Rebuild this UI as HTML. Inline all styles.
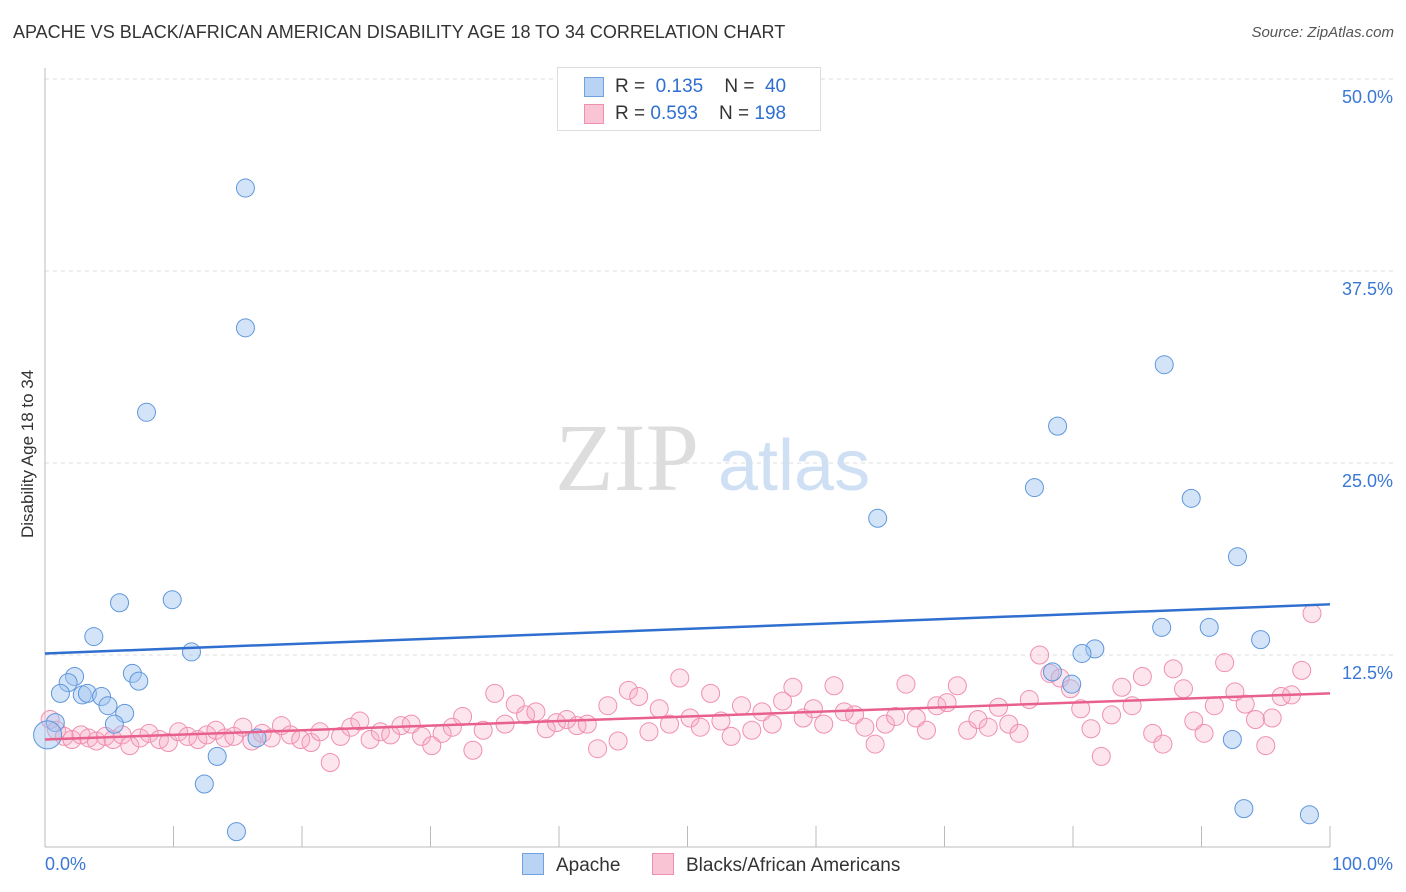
<!DOCTYPE html>
<html><head><meta charset="utf-8"><style>
body{margin:0;background:#fff;font-family:"Liberation Sans",sans-serif;}
#wrap{position:relative;width:1406px;height:892px;}
.t{position:absolute;white-space:nowrap;}
</style></head><body>
<div id="wrap">
<div class="t" style="left:13px;top:22px;font-size:18px;color:#333;">APACHE VS BLACK/AFRICAN AMERICAN DISABILITY AGE 18 TO 34 CORRELATION CHART</div>
<div class="t" style="right:12px;top:24px;font-size:15px;color:#555;font-style:italic;">Source: ZipAtlas.com</div>
<div class="t" style="left:-52px;top:448px;font-size:17px;color:#333;transform:rotate(-90deg);width:160px;text-align:center;">Disability Age 18 to 34</div>
<svg id="svg" width="1406" height="892" style="position:absolute;left:0;top:0"></svg>
</div>
<script>
const apacheX=[15.6,15.6,7.9,5.8,9.9,3.8,11.4,2.3,1.8,6.8,7.3,1.2,2.9,3.3,4.4,4.9,6.2,5.4,0.8,0.2,13.4,16.5,12.4,14.9,64.8,78.8,77.0,87.1,89.2,92.8,86.9,90.6,94.6,81.7,80.7,79.9,78.4,92.4,93.3,98.4];
const apacheY=[42.9,33.8,28.3,15.9,16.1,13.7,12.7,11.1,10.7,11.3,10.8,10.0,9.9,10.0,9.8,9.2,8.7,8.0,8.1,7.3,5.9,7.1,4.1,1.0,21.4,27.4,23.4,31.4,22.7,18.9,14.3,14.3,13.5,12.9,12.6,10.6,11.4,7.0,2.5,2.1];
const blackX=[0.4,0.9,1.5,2.1,2.8,3.4,4.0,4.7,5.3,6.0,6.6,7.4,8.1,8.9,9.6,10.4,11.1,11.9,12.6,13.3,14.0,14.7,15.4,16.1,16.9,17.6,18.4,19.1,19.9,20.7,21.4,22.2,23.0,23.8,24.5,25.3,26.1,26.9,27.7,28.5,29.3,30.1,30.9,31.7,32.5,33.3,34.1,35.0,35.8,36.6,37.4,38.2,39.0,39.8,40.6,41.4,42.2,43.0,43.8,44.6,45.4,46.2,47.0,47.8,48.6,49.4,50.2,51.0,51.8,52.6,53.4,54.2,55.0,55.8,56.6,57.4,58.2,59.0,59.8,60.6,61.4,62.2,63.0,63.8,64.6,65.4,66.2,67.0,67.8,68.6,69.4,70.2,71.0,71.8,72.6,73.4,74.2,75.0,75.8,76.6,77.4,78.2,79.0,79.8,80.6,81.4,82.2,83.0,83.8,84.6,85.4,86.2,87.0,87.8,88.6,89.4,90.2,91.0,91.8,92.6,93.4,94.2,95.0,95.5,96.2,97.0,97.8,98.6];
const blackY=[8.3,7.6,7.2,7.0,7.3,7.1,6.9,7.2,7.0,7.3,6.6,7.1,7.4,7.0,6.8,7.5,7.2,7.0,7.3,7.6,7.1,7.2,7.8,6.9,7.4,7.1,7.9,7.3,7.0,6.8,7.5,5.5,7.2,7.8,8.2,7.0,7.5,7.3,7.9,8.0,7.2,6.6,7.4,7.8,8.5,6.3,7.6,10.0,8.0,9.3,8.6,8.8,7.7,8.1,8.3,7.9,8.0,6.4,9.2,6.9,10.2,9.8,7.5,9.0,8.0,11.0,8.4,7.8,10.0,8.2,7.2,9.2,7.6,8.8,8.0,9.5,10.4,8.4,9.0,8.0,10.5,8.8,8.6,7.8,6.7,8.0,8.5,10.6,8.4,7.6,9.2,9.4,10.5,7.6,8.3,7.8,9.1,8.0,7.4,9.6,12.5,11.3,11.0,10.3,9.0,7.7,5.9,8.6,10.4,9.2,11.1,7.4,6.7,11.6,10.3,8.2,7.4,9.2,12.0,10.1,9.3,8.3,6.6,8.4,9.8,9.9,11.5,15.2,15.0,12.3,6.2,8.0];
const yTicks=[12.5,25.0,37.5,50.0];
const trendBlue=[12.6,15.8], trendPink=[7.0,10.0];
const X0=45,X1=1330,Y0=847,Y50=79;
const sx=v=>X0+(X1-X0)*v/100, sy=v=>Y0-(Y0-Y50)*v/50;
const svg=document.getElementById('svg');const NS='http://www.w3.org/2000/svg';
function mk(tag,at,name){const e=document.createElementNS(NS,tag);for(const k in at)e.setAttribute(k,at[k]);


svg.appendChild(e);return e;}
mk('line',{x1:X0,y1:Y50,x2:1393,y2:Y50,stroke:'#ddd','stroke-dasharray':'4,4'},'top-gridline');
yTicks.forEach(t=>{mk('line',{x1:X0,y1:sy(t),x2:1393,y2:sy(t),stroke:'#ddd','stroke-dasharray':'4,4'},'gridline');
const tx=mk('text',{x:1393,y:sy(t)+24,'text-anchor':'end','font-size':18,fill:'#3a78d4','font-family':'Liberation Sans'},'y-tick-label');tx.textContent=t.toFixed(1)+'%';});
mk('line',{x1:X0,y1:68,x2:X0,y2:Y0,stroke:'#bbb'},'y-axis');
mk('line',{x1:X0,y1:Y0,x2:X1,y2:Y0,stroke:'#bbb'},'x-axis');
for(let i=1;i<=10;i++)mk('line',{x1:sx(i*10),y1:826,x2:sx(i*10),y2:Y0,stroke:'#bbb'},'x-tick');
let w=mk('text',{x:555,y:490,'font-size':96,fill:'#ddd','font-family':'Liberation Serif'},'watermark-zip');w.textContent='ZIP';
w=mk('text',{x:718,y:490,'font-size':72,fill:'#cfe0f5','font-family':'Liberation Sans'},'watermark-atlas');w.textContent='atlas';
blackX.forEach((x,i)=>mk('circle',{cx:sx(x),cy:sy(blackY[i]),r:9,fill:'rgba(248,170,195,0.3)',stroke:'#f090b0','stroke-width':1},'black-point'));
apacheX.forEach((x,i)=>mk('circle',{cx:sx(x),cy:sy(apacheY[i]),r:i==19?14:9,fill:'rgba(160,196,240,0.45)',stroke:'#5f97dc','stroke-width':1},'apache-point'));
mk('line',{x1:sx(0),y1:sy(trendBlue[0]),x2:sx(100),y2:sy(trendBlue[1]),stroke:'#2f6fd0','stroke-width':2.5},'apache-trendline');
mk('line',{x1:sx(0),y1:sy(trendPink[0]),x2:sx(100),y2:sy(trendPink[1]),stroke:'#e8618c','stroke-width':2.5},'black-trendline');
let l=mk('text',{x:45,y:870,'font-size':18,fill:'#3a78d4','font-family':'Liberation Sans'},'x-min-label');l.textContent='0.0%';
l=mk('text',{x:1393,y:870,'text-anchor':'end','font-size':18,fill:'#3a78d4','font-family':'Liberation Sans'},'x-max-label');l.textContent='100.0%';
</script>
<div style="position:absolute;left:557px;top:67px;width:262px;height:62px;border:1px solid #ddd;background:#fff;font-size:19px;color:#333;">
<div style="position:absolute;left:26px;top:9px;width:18px;height:18px;background:#b9d3f5;border:1px solid #6fa3e0;"></div>
<div class="t" style="left:57px;top:8px;">R = <span style="color:#2f6fd0">&nbsp;0.135</span>&nbsp;&nbsp;&nbsp;&nbsp;N = <span style="color:#2f6fd0">&nbsp;40</span></div>
<div style="position:absolute;left:26px;top:36px;width:18px;height:18px;background:#f9c5d5;border:1px solid #f090b0;"></div>
<div class="t" style="left:57px;top:35px;">R = <span style="color:#2f6fd0">0.593</span>&nbsp;&nbsp;&nbsp;&nbsp;N = <span style="color:#2f6fd0">198</span></div>
</div>
<div style="position:absolute;left:522px;top:853px;font-size:19px;color:#333;"><span style="display:inline-block;width:20px;height:20px;background:#b9d3f5;border:1px solid #6fa3e0;vertical-align:-4px;margin-right:12px;"></span>Apache</div>
<div style="position:absolute;left:652px;top:853px;font-size:19px;color:#333;"><span style="display:inline-block;width:20px;height:20px;background:#f9c5d5;border:1px solid #f090b0;vertical-align:-4px;margin-right:12px;"></span>Blacks/African Americans</div>
</body></html>
